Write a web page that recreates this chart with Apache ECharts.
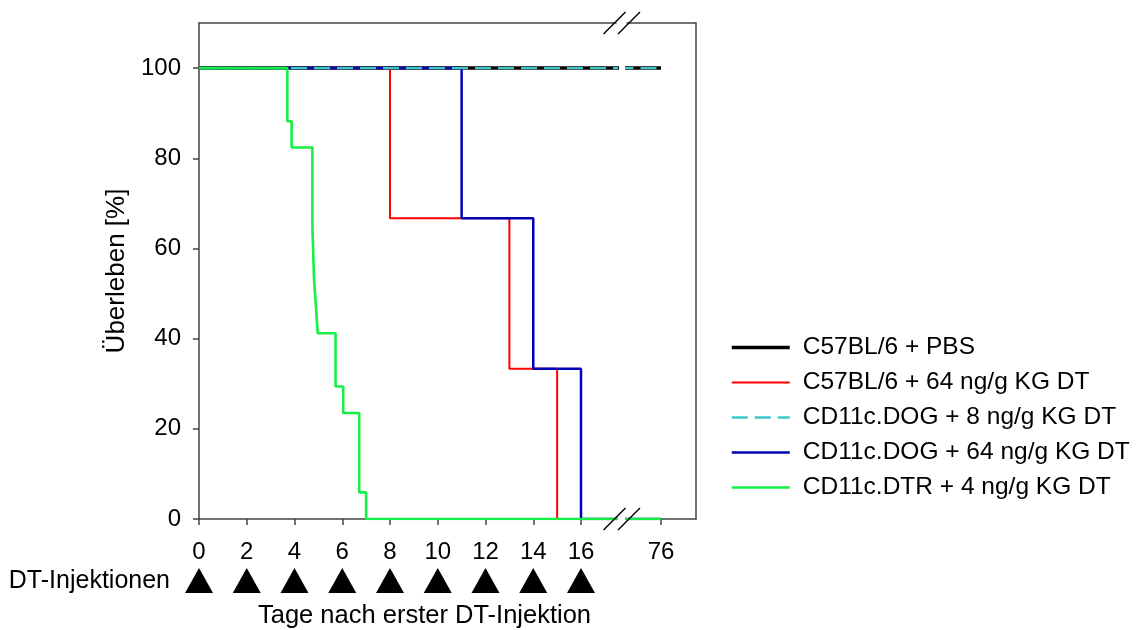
<!DOCTYPE html>
<html>
<head>
<meta charset="utf-8">
<script src="https://cdn.jsdelivr.net/npm/echarts@6/dist/echarts.min.js"></script>
<style>
  html, body { margin: 0; padding: 0; background: #fff; }
  #chart { width: 1143px; height: 630px; }
</style>
</head>
<body>
<div id="chart"></div>
<script>
// 数据
const pbsDays = [0, 76]
const pbsSurvival = [100, 100]
const wt64Days = [0, 8, 13, 15, 76]
const wt64Survival = [100, 66.7, 33.3, 0, 0]
const dog8Days = [0, 76]
const dog8Survival = [100, 100]
const dog64Days = [0, 11, 14, 16, 76]
const dog64Survival = [100, 66.7, 33.3, 0, 0]
const dtrDays = [0, 3.7, 3.88, 4.75, 4.82, 4.9, 4.97, 5.72, 6.04, 6.71, 7, 76]
const dtrSurvival = [100, 88.2, 82.4, 64.7, 52.9, 47.1, 41.2, 29.4, 23.5, 5.9, 0, 0]
const injectionDays = [0, 2, 4, 6, 8, 10, 12, 14, 16]
const xTicks = [0, 2, 4, 6, 8, 10, 12, 14, 16]
const xTicksLate = [76]
const yTicks = [0, 20, 40, 60, 80, 100]

const seriesNames = [
  'C57BL/6 + PBS',
  'C57BL/6 + 64 ng/g KG DT',
  'CD11c.DOG + 8 ng/g KG DT',
  'CD11c.DOG + 64 ng/g KG DT',
  'CD11c.DTR + 4 ng/g KG DT'
]

// 布局
const FONT = 'Liberation Sans, Arial, sans-serif'
const PX_PER_DAY = 23.875
const G1_LEFT = 199
const G1_RIGHT = 616
const G2_LEFT = 627
const G2_RIGHT = 696
const TOP = 23
const BOTTOM = 519
const AXIS_COLOR = '#444'

const x1Max = (G1_RIGHT - G1_LEFT) / PX_PER_DAY
const x2Min = 76 - (661 - G2_LEFT) / PX_PER_DAY
const x2Max = x2Min + (G2_RIGHT - G2_LEFT) / PX_PER_DAY

const zip = (xs, ys) => xs.map((x, i) => [x, ys[i]])

const curves = [
  { name: seriesNames[0], data: zip(pbsDays, pbsSurvival), color: '#000', width: 3.5, legendWidth: 3.5, type: 'solid', z: 2 },
  { name: seriesNames[1], data: zip(wt64Days, wt64Survival), color: '#ff0000', width: 2, legendWidth: 2, type: 'solid', z: 3 },
  { name: seriesNames[2], data: zip(dog8Days, dog8Survival), color: '#3cc8c8', width: 2.2, legendWidth: 2.5, type: [16, 7], z: 5 },
  { name: seriesNames[3], data: zip(dog64Days, dog64Survival), color: '#0000b4', width: 2.5, legendWidth: 2.5, type: 'solid', z: 4 },
  { name: seriesNames[4], data: zip(dtrDays, dtrSurvival), color: '#14f046', width: 2.6, legendWidth: 2.5, type: 'solid', z: 6 }
]

const series = []
;[0, 1].forEach((g) => {
  curves.forEach((c) => {
    series.push({
      type: 'line',
      name: c.name,
      xAxisIndex: g,
      yAxisIndex: g,
      step: 'end',
      symbol: 'none',
      z: c.z,
      data: c.data,
      color: c.color,
      lineStyle: { color: c.color, width: c.width, type: c.type }
    })
  })
})
// 注射标记
series.push({
  type: 'scatter',
  xAxisIndex: 4,
  yAxisIndex: 2,
  symbol: 'triangle',
  symbolSize: [28, 25],
  itemStyle: { color: '#000', opacity: 1 },
  data: injectionDays.map((d) => [d, 0.5]),
  silent: true
})

const lineOnly = { show: true, onZero: false, lineStyle: { color: AXIS_COLOR, width: 1.5 } }

function slash(cx, cy) {
  return {
    type: 'line',
    shape: { x1: cx - 11, y1: cy + 11, x2: cx + 11, y2: cy - 11 },
    style: { stroke: '#000', lineWidth: 1.5 },
    z: 100
  }
}
const breakMid = (G1_RIGHT + G2_LEFT) / 2

const chart = echarts.init(document.getElementById('chart'))
const option = {
  animation: false,
  backgroundColor: '#fff',
  textStyle: { fontFamily: FONT },
  grid: [
    { left: G1_LEFT, top: TOP, width: G1_RIGHT - G1_LEFT, height: BOTTOM - TOP, outerBoundsMode: 'none', containLabel: false },
    { left: G2_LEFT, top: TOP, width: G2_RIGHT - G2_LEFT, height: BOTTOM - TOP, outerBoundsMode: 'none', containLabel: false },
    { left: G1_LEFT, top: 568, width: G1_RIGHT - G1_LEFT, height: 25, outerBoundsMode: 'none', containLabel: false }
  ],
  xAxis: [
    {
      type: 'value', gridIndex: 0, position: 'bottom', min: 0, max: x1Max,
      axisLine: lineOnly,
      axisTick: { show: true, customValues: xTicks, length: 6, lineStyle: { color: AXIS_COLOR, width: 1.5 } },
      axisLabel: { customValues: xTicks, margin: 21, fontSize: 24, color: '#000', fontFamily: FONT },
      splitLine: { show: false },
      name: 'Tage nach erster DT-Injektion',
      nameLocation: 'middle',
      nameGap: 84,
      nameTextStyle: { fontSize: 25.5, color: '#000', fontFamily: FONT, padding: [0, 0, 0, 34] }
    },
    {
      type: 'value', gridIndex: 1, position: 'bottom', min: x2Min, max: x2Max,
      axisLine: lineOnly,
      axisTick: { show: true, customValues: xTicksLate, length: 6, lineStyle: { color: AXIS_COLOR, width: 1.5 } },
      axisLabel: { customValues: xTicksLate, margin: 21, fontSize: 24, color: '#000', fontFamily: FONT },
      splitLine: { show: false }
    },
    {
      type: 'value', gridIndex: 0, position: 'top', min: 0, max: x1Max,
      axisLine: lineOnly, axisTick: { show: false }, axisLabel: { show: false }, splitLine: { show: false }
    },
    {
      type: 'value', gridIndex: 1, position: 'top', min: x2Min, max: x2Max,
      axisLine: lineOnly, axisTick: { show: false }, axisLabel: { show: false }, splitLine: { show: false }
    },
    {
      type: 'value', gridIndex: 2, min: 0, max: x1Max, show: false
    }
  ],
  yAxis: [
    {
      type: 'value', gridIndex: 0, position: 'left', min: 0, max: 110,
      axisLine: lineOnly,
      axisTick: { show: true, customValues: yTicks, length: 6, lineStyle: { color: AXIS_COLOR, width: 1.5 } },
      axisLabel: { customValues: yTicks, margin: 18, fontSize: 24, color: '#000', fontFamily: FONT },
      splitLine: { show: false },
      name: 'Überleben [%]',
      nameLocation: 'middle',
      nameGap: 69,
      nameTextStyle: { fontSize: 26, color: '#000', fontFamily: FONT }
    },
    {
      type: 'value', gridIndex: 1, position: 'right', min: 0, max: 110,
      axisLine: lineOnly, axisTick: { show: false }, axisLabel: { show: false }, splitLine: { show: false }
    },
    {
      type: 'value', gridIndex: 2, min: 0, max: 1, show: false
    }
  ],
  legend: {
    data: curves.map((c) => ({ name: c.name, lineStyle: { width: c.legendWidth } })),
    orient: 'vertical',
    left: 730,
    top: 335,
    padding: 0,
    itemWidth: 58,
    itemHeight: 14,
    itemGap: 10,
    itemStyle: { opacity: 0 },
    textStyle: { fontSize: 24.5, color: '#000', fontFamily: FONT, padding: [0, 0, 0, 8] }
  },
  graphic: [
    {
      type: 'text',
      x: 170,
      y: 581,
      style: { text: 'DT-Injektionen', align: 'right', verticalAlign: 'middle', fontSize: 25, fontFamily: FONT, fill: '#000' }
    },
    slash(breakMid - 7, TOP),
    slash(breakMid + 7.5, TOP),
    slash(breakMid - 7, BOTTOM),
    slash(breakMid + 7.5, BOTTOM)
  ],
  series: series
}
chart.setOption(option)
</script>
</body>
</html>
